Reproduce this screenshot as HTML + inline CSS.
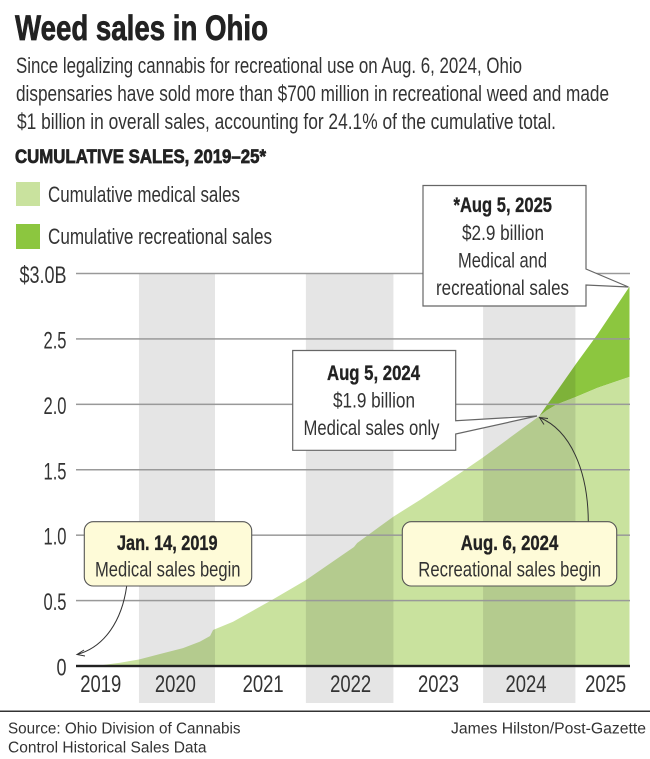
<!DOCTYPE html>
<html lang="en">
<head>
<meta charset="utf-8">
<title>Weed sales in Ohio</title>
<style>
html,body{margin:0;padding:0;background:#fff;width:650px;height:759px;overflow:hidden}
svg{display:block}
text{font-family:"Liberation Sans Narrow","Liberation Sans",sans-serif;fill:#333}
.b{font-weight:700;fill:#222;stroke:#222;stroke-width:.35px}
.heavy{stroke-width:.7px}
.src{font-family:"Liberation Sans",sans-serif;font-size:15.5px;fill:#333}
.body{font-size:22px}
.call{font-size:21.5px;text-anchor:start}
.box{fill:#fff;stroke:#666;stroke-width:1.2}
.ybox{fill:#fefbd8;stroke:#555;stroke-width:1.1}
</style>
</head>
<body>
<svg id="chart" xmlns="http://www.w3.org/2000/svg" width="650" height="759" viewBox="0 0 650 759">
  <text class="b heavy" x="15" y="40" font-size="35" textLength="253" lengthAdjust="spacingAndGlyphs">Weed sales in Ohio</text>
  <text class="body" x="16" y="73" textLength="506" lengthAdjust="spacingAndGlyphs">Since legalizing cannabis for recreational use on Aug. 6, 2024, Ohio</text>
  <text class="body" x="16" y="101" textLength="593" lengthAdjust="spacingAndGlyphs">dispensaries have sold more than $700 million in recreational weed and made</text>
  <text class="body" x="17" y="129" textLength="539" lengthAdjust="spacingAndGlyphs">$1 billion in overall sales, accounting for 24.1% of the cumulative total.</text>
  <text class="b heavy" x="15" y="163" font-size="19" textLength="251" lengthAdjust="spacingAndGlyphs">CUMULATIVE SALES, 2019–25*</text>

  <rect x="16" y="182" width="24" height="24" fill="#c9e29e"/>
  <text class="body" x="48" y="202" textLength="192" lengthAdjust="spacingAndGlyphs">Cumulative medical sales</text>
  <rect x="16" y="224" width="24" height="25" fill="#8cc63f"/>
  <text class="body" x="48" y="244" textLength="224" lengthAdjust="spacingAndGlyphs">Cumulative recreational sales</text>

  <g id="plot"></g>

  <path class="box" d="M423 185.5H586V269L628.5 287L586 285V306H423Z"/>
  <text class="b call" x="453.5" y="212" textLength="98.5" lengthAdjust="spacingAndGlyphs">*Aug 5, 2025</text>
  <text class="call" x="462" y="240" textLength="82" lengthAdjust="spacingAndGlyphs">$2.9 billion</text>
  <text class="call" x="458" y="267.5" textLength="89" lengthAdjust="spacingAndGlyphs">Medical and</text>
  <text class="call" x="436" y="295" textLength="133" lengthAdjust="spacingAndGlyphs">recreational sales</text>

  <path class="box" d="M292.7 350.5H455.7V420.7L537 416L455.7 434V450.3H292.7Z"/>
  <text class="b call" x="327" y="380" textLength="93" lengthAdjust="spacingAndGlyphs">Aug 5, 2024</text>
  <text class="call" x="333" y="407.5" textLength="82" lengthAdjust="spacingAndGlyphs">$1.9 billion</text>
  <text class="call" x="303.5" y="435" textLength="136" lengthAdjust="spacingAndGlyphs">Medical sales only</text>

  <path d="M588.3 521.7C588 470 570 430 539.5 417.5M548 418.5L539.5 417.5L544 424.5" fill="none" stroke="#333" stroke-width="1"/>
  <path d="M126.7 586C122 620 105 647 77 654.5M84 650L77 654.5L85 656" fill="none" stroke="#333" stroke-width="1"/>

  <rect class="ybox" x="84.3" y="521.7" width="167.4" height="64.3" rx="9"/>
  <text class="b call" x="117" y="550" textLength="100.5" lengthAdjust="spacingAndGlyphs">Jan. 14, 2019</text>
  <text class="call" x="95" y="576.7" textLength="145.5" lengthAdjust="spacingAndGlyphs">Medical sales begin</text>

  <rect class="ybox" x="402.3" y="521.7" width="214.4" height="64.3" rx="9"/>
  <text class="b call" x="460.7" y="550" textLength="97.6" lengthAdjust="spacingAndGlyphs">Aug. 6, 2024</text>
  <text class="call" x="418.3" y="576.7" textLength="182.7" lengthAdjust="spacingAndGlyphs">Recreational sales begin</text>

  <rect x="0" y="710.5" width="650" height="1.5" fill="#333"/>
  <text class="src" x="8" y="733.5" textLength="232.5" lengthAdjust="spacingAndGlyphs">Source: Ohio Division of Cannabis</text>
  <text class="src" x="8" y="752.5" textLength="198.5" lengthAdjust="spacingAndGlyphs">Control Historical Sales Data</text>
  <text class="src" x="451" y="733.5" textLength="195" lengthAdjust="spacingAndGlyphs">James Hilston/Post-Gazette</text>
</svg>
<script>
// Reporting-week index since the first sale (the source axis is not strictly calendar-linear)
const weeks = [0, 13.6, 24.9, 35.6, 47.5, 60.5, 70.1, 75.8, 77.5, 88.8, 110.9, 130, 157.2, 159, 179.3, 194.6, 220, 230.2, 262, 266.3, 271.9, 282.6, 295, 313];
// Cumulative sales, $ billions
const medicalSales = [0, 0.005, 0.025, 0.05, 0.092, 0.137, 0.186, 0.229, 0.275, 0.338, 0.505, 0.656, 0.91, 0.94, 1.14, 1.27, 1.5, 1.595, 1.91, 1.955, 2.0, 2.056, 2.127, 2.21];
const recreationalSales = [0, 0, 0, 0, 0, 0, 0, 0, 0, 0, 0, 0, 0, 0, 0, 0, 0, 0, 0, 0.04, 0.1, 0.25, 0.41, 0.69];
const yTicks = [0, 0.5, 1, 1.5, 2, 2.5, 3];
const yTickLabels = ['0', '0.5', '1.0', '1.5', '2.0', '2.5', '$3.0B'];
const yearLabels = ['2019', '2020', '2021', '2022', '2023', '2024', '2025'];
const yearLabelWeeks = [14, 56.2, 105.8, 155.3, 205, 254.5, 299.5];
const shadedYearStart = [35.6, 130, 230.2];
const shadedYearEnd = [78.6, 179.5, 282.4];

const NS = 'http://www.w3.org/2000/svg';
const plot = document.getElementById('plot');
const xScale = w => 76 + (w / 313) * 553.5;
const yScale = v => 666 - (v / 3) * 392.5;
function make(tag, attrs) {
  const el = document.createElementNS(NS, tag);
  for (const k in attrs) el.setAttribute(k, attrs[k]);
  plot.appendChild(el);
  return el;
}
function areaPath(lower, upper) {
  let d = '';
  weeks.forEach((w, i) => { d += (i ? 'L' : 'M') + xScale(w).toFixed(2) + ' ' + yScale(upper[i]).toFixed(2); });
  for (let i = weeks.length - 1; i >= 0; i--) d += 'L' + xScale(weeks[i]).toFixed(2) + ' ' + yScale(lower[i]).toFixed(2);
  return d + 'Z';
}
const totalSales = medicalSales.map((m, i) => m + recreationalSales[i]);

const recArea = make('path', { d: areaPath(medicalSales, totalSales), fill: '#8cc63f' });


const medArea = make('path', { d: areaPath(medicalSales.map(() => 0), medicalSales), fill: '#c9e29e' });



shadedYearStart.forEach((s, i) => {
  const band = make('rect', {
    x: xScale(s), y: yScale(3), width: xScale(shadedYearEnd[i]) - xScale(s), height: 703 - yScale(3),
    fill: '#e5e5e5', style: 'mix-blend-mode:multiply'
  });
  
  
});

function tickWidth(s) {
  let n = 0;
  for (const c of s) n += c === '.' ? 3 : (c === '$' || c === 'B') ? 12 : 10;
  return n;
}
yTicks.forEach((t, i) => {
  const isZero = t === 0;
  const line = make('rect', {
    x: 76, y: yScale(t) - (isZero ? 1.2 : 0.75), width: 554, height: isZero ? 2.4 : 1.5,
    fill: isZero ? '#222' : '#999'
  });
  
  
  const label = make('text', {
    x: 66.5, y: yScale(t) + 9.5, 'font-size': 24, 'text-anchor': 'end',
    textLength: tickWidth(yTickLabels[i]), lengthAdjust: 'spacingAndGlyphs'
  });
  label.textContent = yTickLabels[i];
  
  
});
yearLabels.forEach((y, i) => {
  const label = make('text', {
    x: xScale(yearLabelWeeks[i]), y: 692, 'font-size': 24, 'text-anchor': 'middle',
    textLength: 41, lengthAdjust: 'spacingAndGlyphs'
  });
  label.textContent = y;
  
  
});
</script>
</body>
</html>
